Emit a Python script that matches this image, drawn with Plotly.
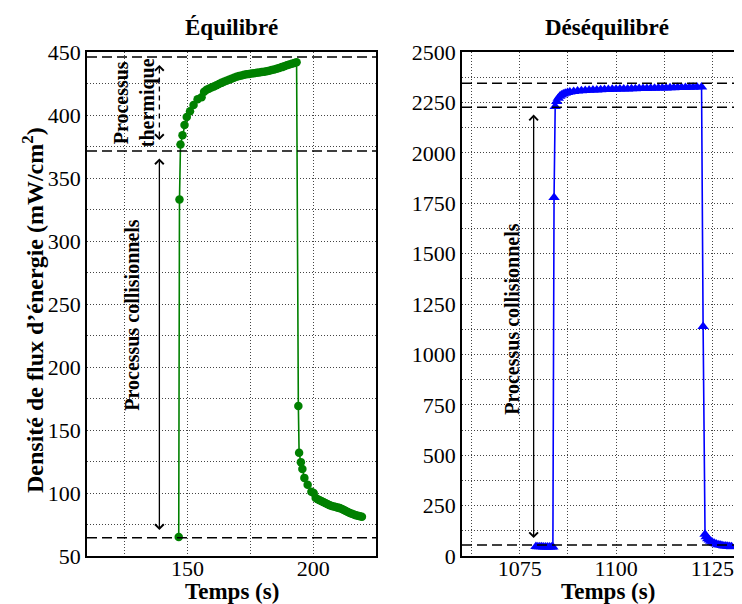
import plotly.graph_objects as go

# ---------------- data ----------------
eq_t = [146.5, 146.8, 147.2, 148.0, 148.8, 149.7, 151.0, 152.4, 154.0, 155.6, 156.6, 157.6,
        158.5, 159.5, 160.5, 161.5, 162.5, 163.5, 164.5, 165.5, 166.5, 167.5, 168.5, 169.5,
        170.5, 171.5, 172.5, 173.5, 174.5, 175.5, 176.5, 177.5, 178.5, 179.5, 180.5, 181.5,
        182.5, 183.5, 184.5, 185.5, 186.5, 187.5, 188.5, 189.5, 190.5, 191.5, 192.5, 193.4,
        194.1, 194.4, 195.1, 195.7, 196.5, 197.8, 199.3, 200.2, 201.0, 201.8, 202.6, 203.4,
        204.2, 205.0, 205.8, 206.6, 207.4, 208.2, 209.0, 209.8, 210.6, 211.4, 212.2, 213.0,
        213.8, 214.6, 215.4, 216.2, 217.0, 217.8, 218.6, 219.4]
eq_v = [65, 333, 376.5, 384, 392, 398.5, 403, 408, 412.5, 414, 418.5, 420,
        420.8, 421.8, 422.7, 423.6, 424.6, 425.5, 426.4, 427.2, 428.0, 428.8, 429.6, 430.3,
        430.9, 431.4, 431.9, 432.3, 432.6, 432.9, 433.2, 433.5, 433.8, 434.1, 434.4, 434.8,
        435.2, 435.7, 436.2, 436.8, 437.4, 438.0, 438.7, 439.4, 440.0, 440.6, 441.2, 441.8,
        169, 132, 124.5, 119, 112, 106.5, 101, 100, 96, 95, 94.3, 93.5,
        92.7, 91.8, 91.0, 90.2, 89.6, 89.2, 88.8, 88.4, 88.0, 87.4, 86.6, 85.8,
        85.0, 84.2, 83.5, 82.9, 82.4, 82.0, 81.6, 81.2]

dq_t = [1079.2, 1079.7, 1080.2, 1080.7, 1081.2, 1081.7, 1082.2, 1082.7, 1083.2, 1083.6,
        1083.9, 1084.2, 1084.6, 1085.0, 1085.4, 1085.8, 1086.3, 1086.8, 1087.4, 1088.0,
        1089, 1090, 1091, 1092, 1093, 1094, 1095, 1096, 1097, 1098, 1099, 1100, 1101, 1102,
        1103, 1104, 1105, 1106, 1107, 1108, 1109, 1110, 1111, 1112, 1113, 1114, 1115, 1116,
        1117, 1118, 1119, 1120, 1121, 1122.2,
        1122.6, 1123.1, 1123.4, 1123.8, 1124.2, 1124.6, 1125.0, 1125.5, 1126.0, 1126.5,
        1127.0, 1127.5, 1128.0, 1128.5, 1129.0, 1129.5, 1130.0]
dq_v = [47, 46, 46, 46, 45, 45, 45, 45, 45, 45,
        1778, 2230, 2255, 2270, 2280, 2287, 2292, 2296, 2299, 2301,
        2304, 2306, 2307.5, 2309, 2310, 2311, 2312, 2313, 2313.5, 2314, 2315, 2315.5, 2316, 2316.5,
        2317, 2317.5, 2318, 2318.5, 2319, 2319.5, 2320, 2320.5, 2321, 2321.5, 2322, 2322.5, 2323, 2323.5,
        2324, 2324.5, 2325, 2325.5, 2326, 2326.5,
        1138, 108, 95, 86, 79, 73, 68, 63, 59, 56,
        54, 52, 50, 49, 48, 47, 46.5]

eq_levels = [446, 371.5, 64.5]
dq_levels = [2345, 2226, 55]

FONT = "Liberation Serif"
OFF = 8                      # page body margin
W, H = 742 - OFF, 604 - OFF
L_PX, R_PX, TOP, BOT = 87 - OFF, 376 - OFF, 52 - OFF, 556 - OFF
L2_PX = 462 - OFF

fig = go.Figure()
fig.add_trace(go.Scatter(x=eq_t, y=eq_v, mode="lines+markers", xaxis="x", yaxis="y",
                         line=dict(color="#008000", width=1.6),
                         marker=dict(symbol="circle", size=8.5, color="#008000"),
                         showlegend=False))
fig.add_trace(go.Scatter(x=dq_t, y=dq_v, mode="lines+markers", xaxis="x2", yaxis="y2",
                         line=dict(color="#0000ff", width=1.6),
                         marker=dict(symbol="triangle-up", size=10, color="#0000ff"),
                         showlegend=False))

grid = dict(showgrid=True, gridcolor="#444", griddash="1px,2px", gridwidth=1)
axline = dict(showline=True, linecolor="black", linewidth=1.5, ticks="", zeroline=False,
              tickfont=dict(family=FONT, size=22, color="black"))

fig.update_layout(
    width=W, height=H, margin=dict(l=0, r=0, t=TOP, b=H - BOT),
    paper_bgcolor="white", plot_bgcolor="white",
    font=dict(family=FONT, color="black"),
    xaxis=dict(domain=[L_PX / W, R_PX / W], range=[110, 225], dtick=50, tick0=0,
               mirror=True, ticklabelstandoff=-8,
               minor=dict(dtick=25, tick0=0, **grid), **grid, **axline),
    yaxis=dict(domain=[0, 1], range=[50, 450], dtick=50, tick0=0, mirror=True,
               minor=dict(dtick=25, tick0=0, **grid), **grid, **axline),
    xaxis2=dict(domain=[L2_PX / W, 1], range=[1060, 1132.7], dtick=25, tick0=1000,
                anchor="y2", mirror=True, ticklabelstandoff=-8,
                minor=dict(dtick=12.5, tick0=1000, **grid), **grid, **axline),
    yaxis2=dict(domain=[0, 1], range=[0, 2500], dtick=250, tick0=0, anchor="x2",
                mirror=False, minor=dict(dtick=125, tick0=0, **grid), **grid, **axline),
)

# dashed reference levels
for lv in eq_levels:
    fig.add_shape(type="line", xref="x domain", yref="y", x0=0, x1=1, y0=lv, y1=lv,
                  line=dict(color="black", width=1.5, dash="10px,5px"))
for lv in dq_levels:
    fig.add_shape(type="line", xref="x2 domain", yref="y2", x0=0, x1=1, y0=lv, y1=lv,
                  line=dict(color="black", width=1.5, dash="10px,5px"))

# arrows
arrow_x_eq = 138.8
fig.add_annotation(x=arrow_x_eq, y=70.6, ax=arrow_x_eq, ay=366.7, xref="x", yref="y",
                   axref="x", ayref="y", text="", showarrow=True, arrowside="end+start",
                   arrowhead=4, startarrowhead=4, arrowsize=1.3, startarrowsize=1.3,
                   arrowwidth=1.3, arrowcolor="black")
fig.add_shape(type="line", xref="x", yref="y", x0=arrow_x_eq, x1=arrow_x_eq, y0=383, y1=437,
              line=dict(color="black", width=1.3, dash="5px,4px"))
fig.add_annotation(x=arrow_x_eq, y=439.7, ax=0, ay=5, xref="x", yref="y", text="",
                   showarrow=True, arrowhead=4, arrowsize=1.3, arrowwidth=1.3, arrowcolor="black")
fig.add_annotation(x=arrow_x_eq, y=380.2, ax=0, ay=-5, xref="x", yref="y", text="",
                   showarrow=True, arrowhead=4, arrowsize=1.3, arrowwidth=1.3, arrowcolor="black")

arrow_x_dq = 1078.6
fig.add_annotation(x=arrow_x_dq, y=89, ax=arrow_x_dq, ay=2197, xref="x2", yref="y2",
                   axref="x2", ayref="y2", text="", showarrow=True, arrowside="end+start",
                   arrowhead=4, startarrowhead=4, arrowsize=1.3, startarrowsize=1.3,
                   arrowwidth=1.3, arrowcolor="black")

bold20 = dict(family=FONT, size=20, color="black", weight="bold")
fig.add_annotation(x=128.8, y=409.5, xref="x", yref="y", text="Processus<br>thermique",
                   textangle=-90, showarrow=False, font=bold20)
fig.add_annotation(x=128.0, y=241.7, xref="x", yref="y", text="Processus collisionnels",
                   textangle=-90, showarrow=False, font=bold20)
fig.add_annotation(x=1072.9, y=1175, xref="x2", yref="y2", text="Processus collisionnels",
                   textangle=-90, showarrow=False, font=bold20)

# titles (positions given in page pixels)
bold23 = dict(family=FONT, size=23, color="black", weight="bold")
plot_h = BOT - TOP
def px(pix):
    return (pix - OFF) / W
def py(pix):
    return (BOT - (pix - OFF)) / plot_h

fig.add_annotation(x=px(231.5), y=py(28), xref="paper", yref="paper", text="Équilibré",
                   showarrow=False, font=bold23, xanchor="center", yanchor="middle")
fig.add_annotation(x=px(606.5), y=py(28), xref="paper", yref="paper", text="Déséquilibré",
                   showarrow=False, font=bold23, xanchor="center", yanchor="middle")
fig.add_annotation(x=px(231.5), y=py(591.5), xref="paper", yref="paper", text="Temps (s)",
                   showarrow=False, font=bold23, xanchor="center", yanchor="middle")
fig.add_annotation(x=px(608), y=py(591.5), xref="paper", yref="paper", text="Temps (s)",
                   showarrow=False, font=bold23, xanchor="center", yanchor="middle")
fig.add_annotation(x=px(33), y=py(310), xref="paper", yref="paper",
                   text="Densité de flux d’énergie (mW/cm<sup>2</sup>)", textangle=-90,
                   showarrow=False, font=dict(family=FONT, size=24, color="black", weight="bold"),
                   xanchor="center", yanchor="middle")

fig.write_html("out.html")
